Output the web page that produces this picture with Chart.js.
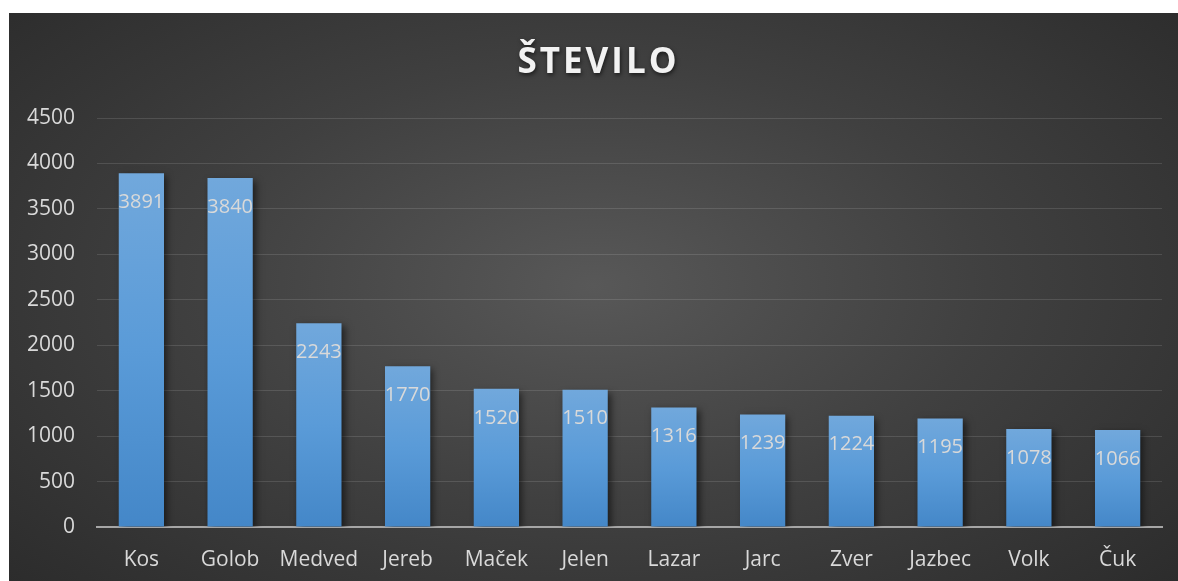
<!DOCTYPE html>
<html>
<head>
<meta charset="utf-8">
<script src="https://cdn.jsdelivr.net/npm/chart.js@4.4.1/dist/chart.umd.min.js"></script>
<style>
  html, body { margin: 0; padding: 0; background: #ffffff; }
  #wrap {
    position: absolute; left: 9px; top: 13px; width: 1169px; height: 568px;
    background: radial-gradient(ellipse 75% 85% at 50% 48%, #585858 0%, #404040 45%, #282828 100%);
  }
  canvas { display: block; }
</style>
</head>
<body>
<div id="wrap"><canvas id="c" width="1169" height="568"></canvas></div>
<script>
const chartTitle = 'ŠTEVILO';
const categories = ['Kos', 'Golob', 'Medved', 'Jereb', 'Maček', 'Jelen', 'Lazar', 'Jarc', 'Zver', 'Jazbec', 'Volk', 'Čuk'];
const values = [3891, 3840, 2243, 1770, 1520, 1510, 1316, 1239, 1224, 1195, 1078, 1066];
const yMin = 0, yMax = 4500, yStep = 500;

const FONT = "'Open Sans', 'Noto Sans', sans-serif";
const TEXT = '#d9d9d9';

const titlePlugin = {
  id: 'customTitle',
  afterDraw(chart) {
    const ctx = chart.ctx;
    ctx.save();
    ctx.font = "bold 35px " + FONT;
    if ('letterSpacing' in ctx) ctx.letterSpacing = '3px';
    ctx.textAlign = 'center';
    ctx.textBaseline = 'alphabetic';
    ctx.shadowColor = 'rgba(0,0,0,0.6)';
    ctx.shadowBlur = 4;
    ctx.shadowOffsetX = 1;
    ctx.shadowOffsetY = 2;
    ctx.fillStyle = '#f2f2f2';
    ctx.fillText(chartTitle, chart.width / 2 + 5, 60);
    ctx.restore();
  }
};

const shadowPlugin = {
  id: 'barShadow',
  beforeDatasetsDraw(chart) {
    const ctx = chart.ctx;
    ctx.save();
    ctx.shadowColor = 'rgba(0,0,0,0.55)';
    ctx.shadowBlur = 7;
    ctx.shadowOffsetX = 3;
    ctx.shadowOffsetY = 3;
  },
  afterDatasetsDraw(chart) {
    chart.ctx.restore();
  }
};

const labelPlugin = {
  id: 'valueLabels',
  afterDatasetsDraw(chart) {
    const ctx = chart.ctx;
    const meta = chart.getDatasetMeta(0);
    ctx.save();
    ctx.font = "20px " + FONT;
    ctx.fillStyle = TEXT;
    ctx.textAlign = 'center';
    ctx.textBaseline = 'middle';
    meta.data.forEach((bar, i) => {
      ctx.fillText(String(values[i]), bar.x, bar.y + 29);
    });
    ctx.restore();
  }
};

new Chart(document.getElementById('c'), {
  type: 'bar',
  data: {
    labels: categories,
    datasets: [{
      data: values,
      backgroundColor(context) {
        const chart = context.chart;
        const ys = chart.scales && chart.scales.y;
        if (!ys || context.parsed == null || !chart.chartArea) return '#5b9bd5';
        const top = ys.getPixelForValue(context.parsed.y);
        const bottom = ys.getPixelForValue(0);
        if (!isFinite(top) || !isFinite(bottom) || top === bottom) return '#5b9bd5';
        const g = chart.ctx.createLinearGradient(0, top, 0, bottom);
        g.addColorStop(0, '#71a8dc');
        g.addColorStop(0.5, '#5a9bd8');
        g.addColorStop(1, '#4487c8');
        return g;
      },
      borderWidth: 0,
      barPercentage: 0.51,
      categoryPercentage: 1.0
    }]
  },
  options: {
    responsive: false,
    animation: false,
    devicePixelRatio: 1,
    layout: { padding: { top: 105, right: 16, left: 0, bottom: 0 } },
    plugins: {
      legend: { display: false },
      title: { display: false },
      tooltip: { enabled: false }
    },
    scales: {
      x: {
        grid: { display: false, drawTicks: false },
        border: { display: true, color: '#a6a6a6', width: 2 },
        ticks: { color: TEXT, font: { family: FONT, size: 21 }, padding: 20, maxRotation: 0 },
        afterFit(scale) { scale.height = 54; }
      },
      y: {
        min: yMin, max: yMax,
        grid: { color: 'rgba(255,255,255,0.12)', lineWidth: 1, drawTicks: false },
        border: { display: false },
        ticks: {
          stepSize: yStep, color: TEXT, font: { family: FONT, size: 21 }, padding: 22,
          callback(value) { return String(value); }
        },
        afterFit(scale) { scale.width = 88; }
      }
    }
  },
  plugins: [shadowPlugin, labelPlugin, titlePlugin]
});
</script>
</body>
</html>
